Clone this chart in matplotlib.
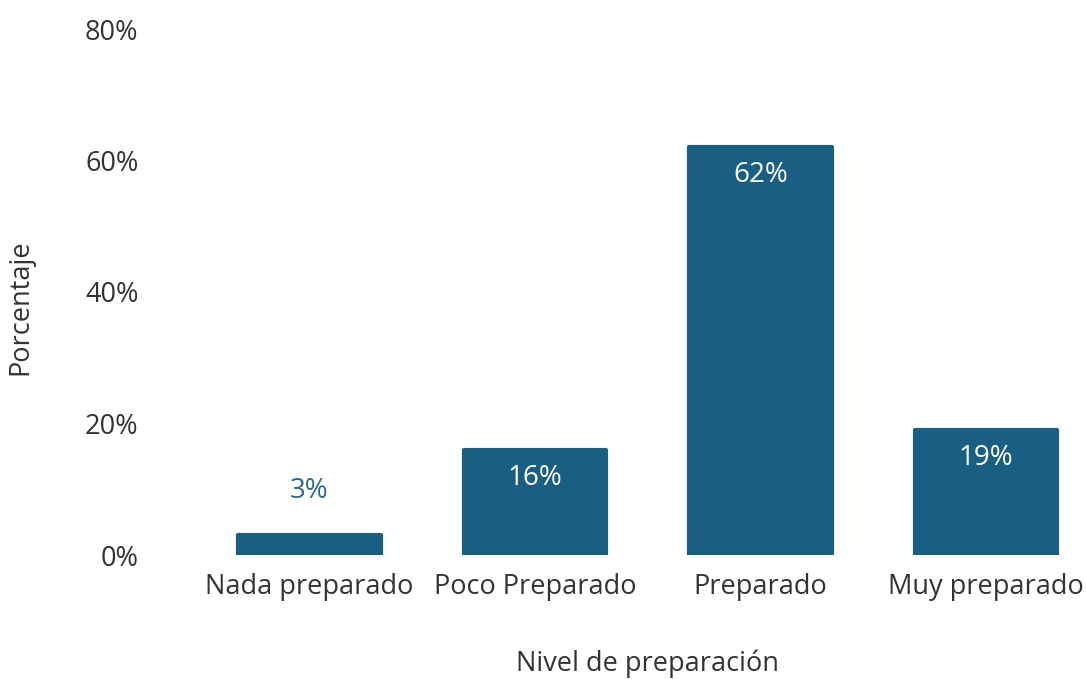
import matplotlib.pyplot as plt
from matplotlib.ticker import FuncFormatter

niveles = ['Nada preparado', 'Poco Preparado', 'Preparado', 'Muy preparado']
porcentajes = [3, 16, 62, 19]
yticks = [0, 20, 40, 60, 80]

azul = '#195f83'
gris = '#333333'

plt.rcParams['font.family'] = ['Open Sans', 'DejaVu Sans']

fig = plt.figure(figsize=(10.86, 6.79), dpi=100)
ax = fig.add_axes([196.75 / 1086, 124 / 679, 902 / 1086, 526 / 679])

x = range(len(niveles))
bars = ax.bar(x, porcentajes, width=0.63, color=azul, edgecolor=azul,
              linewidth=3, joinstyle='round')

# values inside tall bars, above the short one
for b, v in zip(bars, porcentajes):
    cx = b.get_x() + b.get_width() / 2
    if v >= 10:
        ax.annotate(f'{v}%', (cx, v), xytext=(0, -28), textcoords='offset pixels',
                    ha='center', va='center', color='white', fontsize=20)
    else:
        ax.annotate(f'{v}%', (cx, v), xytext=(0, 44), textcoords='offset pixels',
                    ha='center', va='center', color='#2d6a90', fontsize=20)

ax.set_xlim(-0.5, 3.5)
ax.set_ylim(0, 80)
ax.set_xticks(list(x))
ax.set_xticklabels(niveles)
ax.set_yticks(yticks)
ax.yaxis.set_major_formatter(FuncFormatter(lambda v, p: f'{v:.0f}%'))
ax.tick_params(axis='both', length=0, labelsize=19.5, labelcolor=gris)
ax.tick_params(axis='y', pad=42)
ax.tick_params(axis='x', pad=13)

for s in ax.spines.values():
    s.set_visible(False)

ax.set_xlabel('Nivel de preparación', fontsize=19.5, color=gris, labelpad=35)
ax.set_ylabel('Porcentaje', fontsize=19.5, color=gris)
ax.yaxis.set_label_coords((34 - 196.75) / 902, 0.472)

fig.savefig('out.png', dpi=100)
